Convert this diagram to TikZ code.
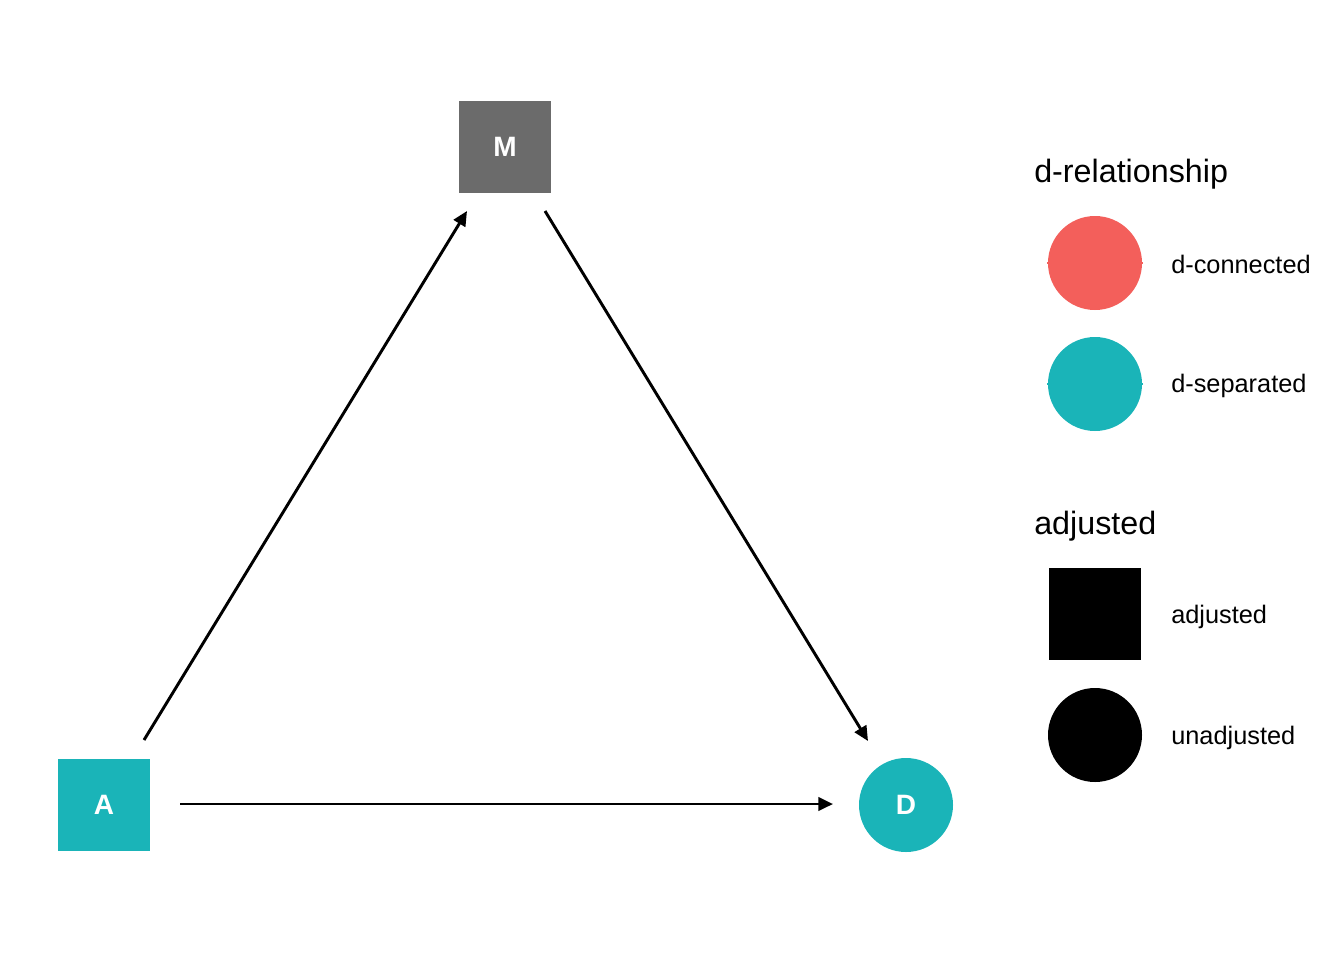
\documentclass[tikz,border=0pt]{standalone}
\usepackage{fontspec}
\setmainfont{Liberation Sans}
\usetikzlibrary{arrows.meta}
\definecolor{dsep}{HTML}{1AB4B8}
\definecolor{dcon}{HTML}{F35F5B}
\definecolor{mgray}{HTML}{6B6B6B}
\tikzset{
  sqnode/.style={rectangle, minimum size=69pt, inner sep=0pt, text=white, font=\fontsize{21}{21}\selectfont\bfseries},
  cirnode/.style={circle, minimum size=70.5pt, inner sep=0pt, text=white, font=\fontsize{21}{21}\selectfont\bfseries},
  edge/.style={line width=2.2pt, -{Triangle[length=11pt,width=10pt]}},
  legtitle/.style={anchor=west, inner sep=0pt, font=\fontsize{24.2}{24}\selectfont},
  leglabel/.style={anchor=west, inner sep=0pt, font=\fontsize{19}{19}\selectfont},
}
\begin{document}
\begin{tikzpicture}[x=0.75pt,y=-0.75pt]
\useasboundingbox (0,0) rectangle (1344,960);
% nodes
\node[sqnode, fill=mgray] (M) at (505,147) {M};
\node[sqnode, fill=dsep] (A) at (104,805) {A};
\node[cirnode, fill=dsep] (D) at (906,805) {D};
% edge endpoints
\coordinate (am1) at (144,740);
\coordinate (am2) at (467,211);
\coordinate (md1) at (545,211);
\coordinate (md2) at (868,741);
\coordinate (ad1) at (180,804);
\coordinate (ad2) at (833,804);
\draw[edge] (am1) -- (am2);
\draw[edge] (md1) -- (md2);
\draw[edge] (ad1) -- (ad2);
% legend
\node[legtitle] (t1) at (1034,174) {d-relationship};
\draw[dcon, line width=1pt] (1047,263) -- (1143,263);
\node[cirnode, fill=dcon] (l1) at (1095,263) {};
\node[leglabel] (l1t) at (1171,264) {d-connected};
\draw[dsep, line width=1pt] (1047,384) -- (1143,384);
\node[cirnode, fill=dsep] (l2) at (1095,384) {};
\node[leglabel] (l2t) at (1171,386) {d-separated};
\node[legtitle] (t2) at (1034,526) {adjusted};
\node[sqnode, fill=black] (l3) at (1094.5,614) {};
\node[leglabel] (l3t) at (1171,617) {adjusted};
\node[cirnode, fill=black] (l4) at (1095,735) {};
\node[leglabel] (l4t) at (1171,738) {unadjusted};
\end{tikzpicture}
\end{document}
